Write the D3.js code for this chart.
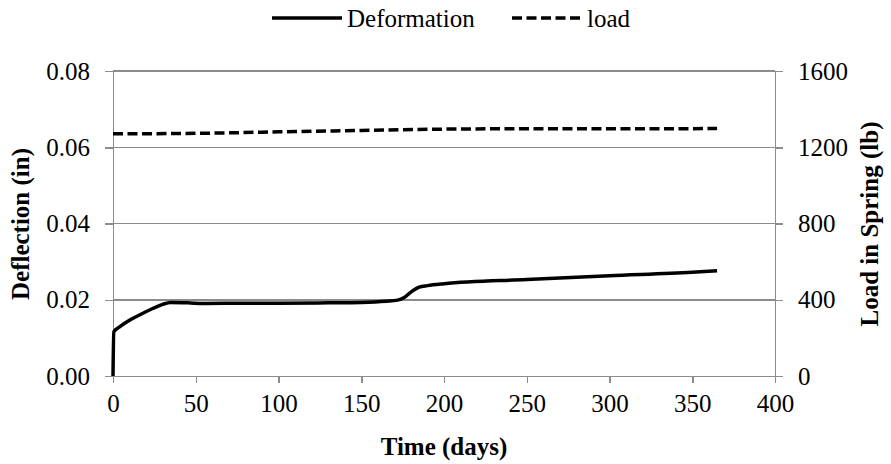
<!DOCTYPE html>
<html>
  <head>
    <meta charset="utf-8">
    <title>Deflection and load</title>
    <script type="text/javascript" src="https://cdn.jsdelivr.net/npm/d3@7"></script>
    <style type='text/css'>
      body { margin: 0; background: #fff; }
      .axis path, .axis line { stroke: #8c8c8c; stroke-width: 1.5px; shape-rendering: crispEdges; }
      .grid line { stroke: #8c8c8c; stroke-width: 1.5px; shape-rendering: crispEdges; }
    </style>
  </head>
  <body>
    <script type="text/javascript">
      // deformation series (days, inches)
      var defDays = [0, 0.5, 4, 8, 16, 24, 30, 35, 45, 55, 80, 100, 130, 150, 165, 172, 176, 180, 185, 190, 200, 250, 300, 350, 365];
      var defValues = [0, 0.0116, 0.0129, 0.0141, 0.0160, 0.0177, 0.0188, 0.0193, 0.0192, 0.0190, 0.0191, 0.0191, 0.0192, 0.0193, 0.0196, 0.0199, 0.0206, 0.0220, 0.0233, 0.0237, 0.0242, 0.0253, 0.0263, 0.0272, 0.0276];
      // load series (days, lb)
      var loadDays = [0, 40, 72, 100, 150, 200, 250, 300, 365];
      var loadValues = [1271, 1272, 1276, 1281, 1288, 1295, 1297, 1297, 1298];

      var xTicks = [0, 50, 100, 150, 200, 250, 300, 350, 400];
      var yLeftTicks = [0, 0.02, 0.04, 0.06, 0.08];
      var yRightTicks = [0, 400, 800, 1200, 1600];

      var w = 891, h = 464;
      var padLeft = 113, padRight = 775, padTop = 71, padBottom = 376;

      var svg = d3.select('body').append('svg')
                  .attr('width', w)
                  .attr('height', h);

      var xScale = d3.scaleLinear().domain([0, 400]).range([padLeft, padRight]);
      var yScale = d3.scaleLinear().domain([0, 0.08]).range([padBottom, padTop]);
      var y2Scale = d3.scaleLinear().domain([0, 1600]).range([padBottom, padTop]);

      // horizontal gridlines
      svg.append('g')
          .attr('class', 'grid')
          .selectAll('line')
          .data(yLeftTicks.slice(1))
          .enter()
          .append('line')
          .attr('x1', padLeft)
          .attr('x2', padRight)
          .attr('y1', function(d) {return yScale(d);})
          .attr('y2', function(d) {return yScale(d);});

      var xAxis = d3.axisBottom(xScale).tickValues(xTicks).tickSize(7).tickSizeOuter(0).tickPadding(11)
                    .tickFormat(d3.format('d'));
      var yAxis = d3.axisLeft(yScale).tickValues(yLeftTicks).tickSize(8).tickSizeOuter(0).tickPadding(15)
                    .tickFormat(d3.format('.2f'));
      var y2Axis = d3.axisRight(y2Scale).tickValues(yRightTicks).tickSize(8).tickSizeOuter(0).tickPadding(15)
                    .tickFormat(d3.format('d'));

      svg.append('g')
          .attr('class', 'x axis')
          .attr('transform', 'translate(0,' + padBottom + ')')
          .call(xAxis);

      svg.append('g')
          .attr('class', 'y axis')
          .attr('transform', 'translate(' + padLeft + ',0)')
          .call(yAxis);

      svg.append('g')
          .attr('class', 'y2 axis')
          .attr('transform', 'translate(' + padRight + ',0)')
          .call(y2Axis);

      svg.selectAll('.axis')
          .attr('font-family', 'Liberation Serif')
          .attr('font-size', 25);
      svg.selectAll('.axis text')
          .attr('fill', '#000');

      // lines
      var defData = defDays.map(function(d, i) {return [d, defValues[i]];});
      var loadData = loadDays.map(function(d, i) {return [d, loadValues[i]];});

      var defLine = d3.line()
                      .x(function(d) {return xScale(d[0]);})
                      .y(function(d) {return yScale(d[1]);})
                      .curve(d3.curveMonotoneX);

      var loadLine = d3.line()
                      .x(function(d) {return xScale(d[0]);})
                      .y(function(d) {return y2Scale(d[1]);})
                      .curve(d3.curveMonotoneX);

      svg.append('path')
          .datum(defData)
          .attr('d', defLine)
          .attr('fill', 'none')
          .attr('stroke', '#000')
          .attr('stroke-width', 3.5);

      svg.append('path')
          .datum(loadData)
          .attr('d', loadLine)
          .attr('fill', 'none')
          .attr('stroke', '#000')
          .attr('stroke-width', 3.5)
          .attr('stroke-dasharray', '10,4.5');

      // axis titles and legend share one text group
      var labels = svg.append('g')
          .attr('font-family', 'Liberation Serif')
          .attr('font-size', 25)
          .attr('fill', '#000');

      labels.append('text')
          .attr('x', 444)
          .attr('y', 455)
          .attr('font-weight', 'bold')
          .attr('text-anchor', 'middle')
          .text('Time (days)');

      labels.append('text')
          .attr('transform', 'translate(29,224) rotate(-90)')
          .attr('font-weight', 'bold')
          .attr('text-anchor', 'middle')
          .text('Deflection (in)');

      labels.append('text')
          .attr('transform', 'translate(878,224) rotate(-90)')
          .attr('font-weight', 'bold')
          .attr('text-anchor', 'middle')
          .text('Load in Spring (lb)');

      // legend
      svg.append('line')
          .attr('x1', 272).attr('x2', 342)
          .attr('y1', 18).attr('y2', 18)
          .attr('stroke', '#000').attr('stroke-width', 3.5);
      labels.append('text')
          .attr('x', 347).attr('y', 27)
          .text('Deformation');
      svg.append('line')
          .attr('x1', 512).attr('x2', 583)
          .attr('y1', 18).attr('y2', 18)
          .attr('stroke', '#000').attr('stroke-width', 3.5)
          .attr('stroke-dasharray', '10,4.5');
      labels.append('text')
          .attr('x', 587).attr('y', 27)
          .text('load');
    </script>
  </body>
</html>
